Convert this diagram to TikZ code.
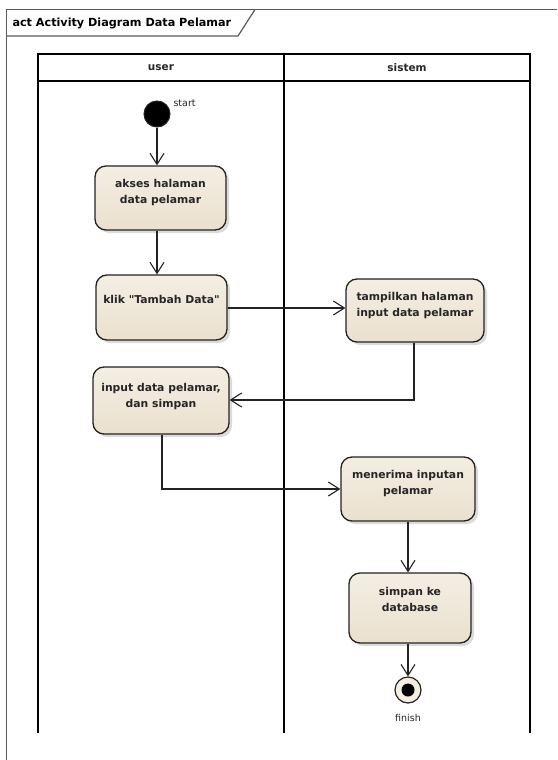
\documentclass[tikz,border=0pt]{standalone}
\usepackage{fontspec}
\setmainfont{DejaVu Sans}
% same family without TeX ligature mapping, so that " stays a straight quote
\newfontfamily\plainsans{DejaVu Sans}
\usetikzlibrary{arrows.meta,calc}
\definecolor{boxtop}{RGB}{244,238,227}
\definecolor{boxbot}{RGB}{234,224,206}
\definecolor{edge}{RGB}{35,35,35}
\definecolor{framec}{RGB}{90,90,90}
\tikzset{
  act/.style={draw=edge, line width=1.3pt, rounded corners=11pt,
    top color=boxtop, bottom color=boxbot, inner sep=0pt},
  acttext/.style={font=\plainsans\bfseries\fontsize{10.8}{16}\selectfont, align=center, text=black!85},
  flow/.style={draw=edge, line width=1.1pt,
    -{Straight Barb[length=11pt,width=14pt,line width=1.1pt]}},
  lane/.style={draw=black, line width=1.2pt},
  lanetitle/.style={font=\bfseries\fontsize{10.5}{12}\selectfont, text=black!85},
  small/.style={font=\fontsize{9.5}{11}\selectfont, text=black!85},
}
% rounded action box with a soft offset shadow: name, cx, cy, w, h
\newcommand{\actbox}[5]{%
  \fill[black!14, rounded corners=11pt] ($(#2,#3)+(-#4/2+3,-#5/2+3)$) rectangle ($(#2,#3)+(#4/2+3,#5/2+3)$);
  \node[act, minimum width=#4pt, minimum height=#5pt] (#1) at (#2,#3) {};
}
\begin{document}
\begin{tikzpicture}[x=1pt,y=-1pt]
\useasboundingbox (0,0) rectangle (557,760);
\fill[white] (0,0) rectangle (557,760);

% diagram frame with name tab
\draw[framec, line width=1.4pt] (6.5,760) -- (6.5,9.5) -- (557,9.5);
\draw[framec, line width=1.2pt] (6.5,36) -- (238,36) -- (255,9.5);
\node[anchor=west, font=\bfseries\fontsize{11.2}{12}\selectfont] (title) at (9,23) {act Activity Diagram Data Pelamar};

% swimlanes
\draw[lane] (38,733) -- (38,54) -- (530,54) -- (530,733);
\draw[lane] (284,54) -- (284,733);
\draw[lane] (38,81) -- (530,81);
\node[lanetitle] (laneU) at (161,67.5) {user};
\node[lanetitle] (laneS) at (407,67.5) {sistem};

% initial node
\node[circle, fill=black, draw=edge, line width=1pt, minimum size=26pt, inner sep=0pt] (start) at (157,114) {};
\node[small, anchor=west] (startlbl) at (170,103) {start};

% actions
\actbox{akses}{160.5}{198}{131}{64}
\node[acttext, anchor=north] (aksesT) at ($(akses.north)+(0,10)$) {akses halaman\\data pelamar};
\actbox{klik}{161.5}{307.5}{131}{65}
\node[acttext, anchor=north] (klikT) at ($(klik.north)+(0,17)$) {klik "Tambah Data"};
\actbox{tampil}{415}{310.5}{138}{63}
\node[acttext, anchor=north] (tampilT) at ($(tampil.north)+(0,10)$) {tampilkan halaman\\input data pelamar};
\actbox{input}{161}{400.5}{136}{67}
\node[acttext, anchor=north] (inputT) at ($(input.north)+(0,13)$) {input data pelamar,\\dan simpan};
\actbox{terima}{408}{489}{134}{64}
\node[acttext, anchor=north] (terimaT) at ($(terima.north)+(0,10)$) {menerima inputan\\pelamar};
\actbox{simpan}{410}{608}{122}{70}
\node[acttext, anchor=north] (simpanT) at ($(simpan.north)+(0,11)$) {simpan ke\\database};

% final node
\node[circle, draw=edge, line width=1.2pt, fill=boxtop, minimum size=26pt, inner sep=0pt] (finish) at (408,690) {};
\fill[black] (finish.center) circle (6.5pt);
\node[small] (finishlbl) at (408,718) {finish};

% control flows
\draw[flow] (start) -- (start |- akses.north);
\draw[flow] (akses.south -| start) -- (klik.north -| start);
\draw[flow] (klik.east |- 0,308) -- (tampil.west |- 0,308);
\draw[flow] (tampil.south -| 414,0) |- (input.east |- 0,400);
\draw[flow] (input.south -| 162,0) |- (terima.west);
\draw[flow] (terima.south) -- (terima.south |- simpan.north);
\draw[flow] (simpan.south -| terima) -- (finish.north);
\end{tikzpicture}
\end{document}
